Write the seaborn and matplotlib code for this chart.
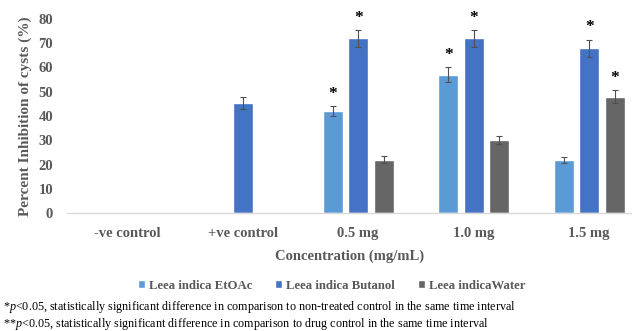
import numpy as np
import pandas as pd
import seaborn as sns
import matplotlib
matplotlib.use("Agg")
import matplotlib.pyplot as plt
from matplotlib.container import BarContainer

categories = ["-ve control", "+ve control", "0.5 mg", "1.0 mg", "1.5 mg"]
series = ["Leea indica EtOAc", "Leea indica Butanol", "Leea indicaWater"]
etoac = [np.nan, np.nan, 42, 57, 22]
butanol = [np.nan, 45.5, 72, 72, 68]
water = [np.nan, np.nan, 22, 30, 48]
etoac_err = [np.nan, np.nan, 2, 3, 1.3]
butanol_err = [np.nan, 2.5, 3.5, 3.5, 3.5]
water_err = [np.nan, np.nan, 1.5, 1.7, 2.7]
etoac_sig = [False, False, True, True, False]
butanol_sig = [False, False, True, True, True]
water_sig = [False, False, False, False, True]
colors = ["#5B9BD5", "#4472C4", "#666666"]
yticks = [0, 10, 20, 30, 40, 50, 60, 70, 80]

values = [etoac, butanol, water]
errs = [etoac_err, butanol_err, water_err]
sigs = [etoac_sig, butanol_sig, water_sig]

rows = []
for s, vals in zip(series, values):
    for c, v in zip(categories, vals):
        rows.append({"Concentration": c, "Series": s, "Value": v})
df = pd.DataFrame(rows)

sns.set_style("white")
plt.rcParams["font.family"] = ["Liberation Serif", "DejaVu Serif"]
plt.rcParams["mathtext.fontset"] = "custom"
plt.rcParams["mathtext.it"] = "Liberation Serif:italic"
plt.rcParams["mathtext.rm"] = "Liberation Serif"

txt = "#595959"
fig = plt.figure(figsize=(6.32, 3.31), dpi=100)
ax = fig.add_axes([0.106, 0.356, 0.894, 0.587])

sns.barplot(data=df, x="Concentration", y="Value", hue="Series",
            order=categories, hue_order=series, palette=colors,
            width=0.663, gap=0.22, errorbar=None, saturation=1,
            legend=True, ax=ax)

bar_conts = [c for c in ax.containers if isinstance(c, BarContainer)]
for si, cont in enumerate(bar_conts):
    for bar in cont.patches:
        if bar is None:
            continue
        h = bar.get_height()
        if h is None or np.isnan(h) or h == 0:
            continue
        xc = bar.get_x() + bar.get_width() / 2
        ci = int(round(xc))
        e = errs[si][ci]
        ax.errorbar(xc, h, yerr=e, fmt="none", ecolor="#505050",
                    elinewidth=0.8, capsize=2.5, capthick=0.8, zorder=5)
        if sigs[si][ci]:
            ax.text(xc, h + e + 5, "*", ha="center", va="center",
                    fontsize=12.5, fontweight="bold", color="black",
                    clip_on=False)

ax.set_xlim(-0.52, 4.37)
ax.set_ylim(0, 80)
ax.set_yticks(yticks)
ax.set_yticklabels([str(t) for t in yticks])
for sp in ["left", "right", "top"]:
    ax.spines[sp].set_visible(False)
ax.spines["bottom"].set_color("#d9d9d9")
ax.spines["bottom"].set_linewidth(1)
ax.tick_params(axis="both", length=0, labelsize=10.5, colors=txt)
ax.tick_params(axis="x", pad=10)
ax.tick_params(axis="y", pad=10)
for lab in ax.get_xticklabels() + ax.get_yticklabels():
    lab.set_fontweight("bold")
ax.set_ylabel("Percent Inhibition of cysts (%)", fontsize=11, fontweight="bold",
              color=txt, labelpad=5)
ax.set_xlabel("Concentration (mg/mL)", fontsize=10.5, fontweight="bold",
              color=txt, labelpad=7)

handles, labels = ax.get_legend_handles_labels()
ax.legend_.remove()
fig.legend(handles, labels, loc="center", bbox_to_anchor=(0.525, 0.137),
           ncol=3, frameon=False, handlelength=0.55,
           handleheight=0.55, handletextpad=0.3, columnspacing=1.8,
           labelcolor=txt, prop={"weight": "bold", "size": 9.2})

footnote = (r"*$p$<0.05, statistically significant difference in comparison to non-treated control in the same time interval"
            "\n"
            r"**$p$<0.05, statistically significant difference in comparison to drug control in the same time interval")
fig.text(0.005, 0.047, footnote, fontsize=8.7, color="black",
         va="center", ha="left", linespacing=1.05)

fig.savefig("out.png", dpi=100)
